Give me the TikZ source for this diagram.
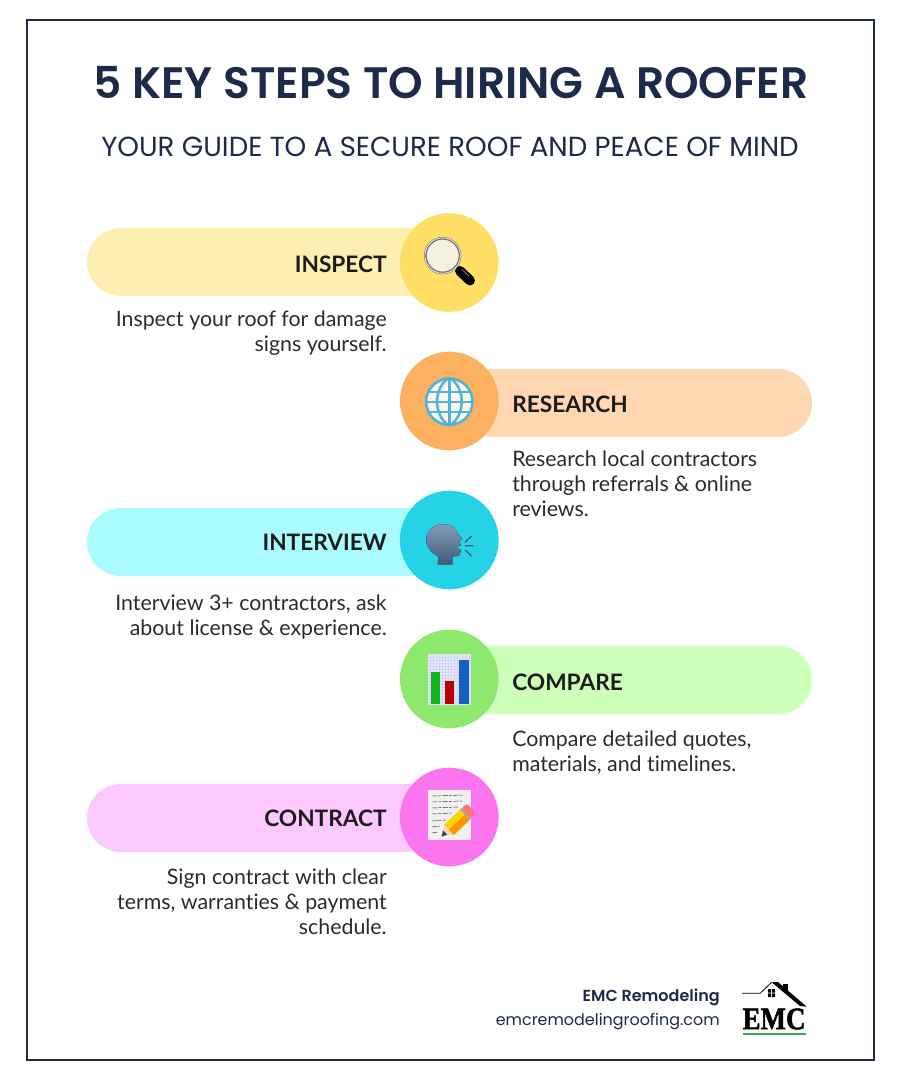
\documentclass[tikz,border=0pt]{standalone}
\usepackage{fontspec}
\setmainfont{Poppins}
\newfontfamily\popsemi{Poppins SemiBold}
\newfontfamily\notefont[Ligatures=NoCommon]{Lato}
\newfontfamily\emcfont[FakeBold=1.5,FakeStretch=.86]{Liberation Serif}
\definecolor{navy}{HTML}{1E2A4A}
\definecolor{inkdark}{HTML}{1C1C1C}
\definecolor{bodyink}{HTML}{2B2B2B}
\definecolor{yellowpill}{HTML}{FDEFB2}
\definecolor{yellowdisc}{HTML}{FFDF66}
\definecolor{orangepill}{HTML}{FFD8B3}
\definecolor{orangedisc}{HTML}{FBB15F}
\definecolor{cyanpill}{HTML}{A9FBFF}
\definecolor{cyandisc}{HTML}{26D2E6}
\definecolor{greenpill}{HTML}{CCFFB8}
\definecolor{greendisc}{HTML}{8EE86D}
\definecolor{pinkpill}{HTML}{FDC8FD}
\definecolor{pinkdisc}{HTML}{FB75EE}
\definecolor{globeblue}{HTML}{4DB4DC}
\definecolor{headblue}{HTML}{4F7199}
\definecolor{barred}{HTML}{B80000}
\definecolor{bargreen}{HTML}{12B51F}
\definecolor{barblue}{HTML}{1560C0}
\definecolor{logogreen}{HTML}{3DA65A}
\tikzset{
  pill/.style={rounded corners=25.5pt},
  headline/.style={font=\notefont\bfseries\fontsize{17}{20}\selectfont,text=inkdark,inner sep=0pt},
  leftnote/.style={font=\notefont\fontsize{16}{18.75}\selectfont,text=bodyink,align=right,anchor=north east,inner sep=0pt},
  rightnote/.style={font=\notefont\fontsize{16}{18.75}\selectfont,text=bodyink,align=left,anchor=north west,inner sep=0pt},
  scribble/.style={black!80,line width=.35pt,dash pattern=on 4pt off .8pt on 2pt off 1.2pt},
  globeline/.style={globeblue,line width=1.9pt},
}
\begin{document}
\begin{tikzpicture}[x=.75pt,y=-.75pt]
\useasboundingbox (0,0) rectangle (900,1080);
\draw[navy,line width=1.5pt] (27,20) rectangle (874,1060);
\node[font=\popsemi\fontsize{33}{36}\selectfont,text=navy,inner sep=0pt] (title) at (451,83) {5 KEY STEPS TO HIRING A ROOFER};
\node[font=\fontsize{20.7}{24}\selectfont,text=navy,inner sep=0pt] (subtitle) at (450,147) {YOUR GUIDE TO A SECURE ROOF AND PEACE OF MIND};
\fill[yellowpill,pill] (87,228) rectangle (440,296);
\fill[orangepill,pill] (460,369) rectangle (812,437);
\fill[cyanpill,pill] (87,508) rectangle (440,576);
\fill[greenpill,pill] (460,646) rectangle (812,714);
\fill[pinkpill,pill] (87,784) rectangle (440,852);
\fill[yellowdisc] (449.3,262.5) circle (37pt);
\fill[orangedisc] (449.3,401) circle (37pt);
\fill[cyandisc] (449.3,540) circle (37pt);
\fill[greendisc] (449.3,679) circle (37pt);
\fill[pinkdisc] (449.3,817) circle (37pt);
\node[headline,anchor=east] (inspect) at (387,264) {INSPECT};
\node[headline,anchor=west] (research) at (512,404) {RESEARCH};
\node[headline,anchor=east] (interview) at (387,542) {INTERVIEW};
\node[headline,anchor=west] (compare) at (512,682) {COMPARE};
\node[headline,anchor=east] (contract) at (387,818) {CONTRACT};
\node[leftnote] (inspectnote) at (387,311) {Inspect your roof for damage\\signs yourself.};
\node[rightnote] (researchnote) at (512,451) {Research local contractors\\through referrals \& online\\reviews.};
\node[leftnote] (interviewnote) at (387,595) {Interview 3+ contractors, ask\\about license \& experience.};
\node[rightnote] (comparenote) at (512,731) {Compare detailed quotes,\\materials, and timelines.};
\node[leftnote] (contractnote) at (387,869) {Sign contract with clear\\terms, warranties \& payment\\schedule.};
\fill[black!55] (453,266) -- (456,263) -- (461,268) -- (458,271) -- cycle;
\draw[black,line width=7.4pt,line cap=round] (460,271) -- (470,280.5);
\draw[white!50!black,line width=.6pt,line cap=round] (462,269.5) -- (469,276);
\fill[yellowdisc!15!white!92!gray] (442.7,255.6) circle (12.2pt);
\draw[black!55,line width=2pt] (442.7,255.6) circle (13pt);
\draw[white!85!gray,line width=.6pt] (442.7,255.6) circle (13.3pt);
\fill[orange!8!white] (449.3,401.7) circle (18pt);
\begin{scope}
\clip (449.3,401.7) circle (18pt);
\draw[globeline] (425,392) -- (474,392) (425,402) -- (474,402) (425,412) -- (474,412);
\draw[globeline] (449.3,377) -- (449.3,426);
\draw[globeline] (449.3,377.5) .. controls (433,388) and (433,415) .. (449.3,426);
\draw[globeline] (449.3,377.5) .. controls (466,388) and (466,415) .. (449.3,426);
\end{scope}
\draw[globeline] (449.3,401.7) circle (17.4pt);
\fill[top color=headblue!70!white,bottom color=headblue!80!black] (437.7,564.3) -- (438.3,556.7) .. controls (431,552) and (426.3,548) .. (426.3,539.7) .. controls (426.3,530) and (434,524.3) .. (443.3,524.3) .. controls (451,524.3) and (456,527) .. (457.2,533) -- (462.3,538.6) -- (459,541.7) -- (461,545) -- (456.5,547.5) -- (461.3,550) -- (458.8,555.7) -- (452.3,556.7) -- (452.3,564.3) -- cycle;
\draw[headblue!80!black,line width=1pt] (465,542.3) -- (471.7,536) (465,545.7) -- (473.3,545.7) (465,550) -- (471.7,556);
\fill[blue!8!gray!15!white] (427.7,654) rectangle (471,705);
\foreach \xgrid in {430,433,...,469}
  \draw[blue!18!white,line width=.15pt] (\xgrid,654) -- (\xgrid,705);
\foreach \ygrid in {657,660,...,703}
  \draw[blue!18!white,line width=.15pt] (427.7,\ygrid) -- (471,\ygrid);
\fill[bargreen] (430.7,671.7) rectangle (440,704.3);
\fill[barred] (444.7,680.7) rectangle (454.3,704.3);
\fill[barblue] (459.3,660.3) rectangle (468.7,704.3);
\fill[black!6] (427.7,790) rectangle (471,840);
\foreach \yrow/\xend in {796/464,802/462,808/458,814/452,821/446,827/440,833/438}
  \draw[scribble] (432,\yrow) -- (\xend,\yrow-1);
\fill[black!75] (441.7,836.7) -- (443,830) -- (447.5,834.5) -- cycle;
\fill[orange!30!white] (443,830) -- (444.2,824.7) -- (453.8,834.9) -- (447.5,834.5) -- cycle;
\fill[yellow!70!orange] (444.2,824.7) -- (460.1,809.6) -- (469.7,819.8) -- (453.8,834.9) -- cycle;
\fill[orange!85!yellow] (449,829.8) -- (464.9,814.7) -- (469.7,819.8) -- (453.8,834.9) -- cycle;
\fill[black!35] (460.1,809.6) -- (461.6,808.2) -- (471.2,818.4) -- (469.7,819.8) -- cycle;
\fill[red!40!pink,rounded corners=1.5pt] (461.6,808.2) -- (466.9,803.6) -- (475.1,812.4) -- (471.2,818.4) -- cycle;
\node[font=\popsemi\fontsize{12}{15}\selectfont,text=navy,anchor=east,inner sep=0pt] (brand) at (720,997) {EMC Remodeling};
\node[font=\fontsize{11.95}{15}\selectfont,text=navy,anchor=east,inner sep=0pt] (website) at (720,1022) {emcremodelingroofing.com};
\draw[black,line width=.6pt] (742,993.3) -- (760,993.3) -- (771.7,982.3);
\fill[black] (771.7,982.3) -- (778,982) -- (806.7,1006.7) -- (800,1006) -- cycle;
\fill[black] (783,984) rectangle (788,991);
\fill[black] (768,989) rectangle (771,992.6) (772,989) rectangle (775,992.6) (768,993.4) rectangle (771,997) (772,993.4) rectangle (775,997);
\node[font=\emcfont\bfseries\fontsize{23.5}{24}\selectfont,text=black,inner sep=0pt] (emc) at (774,1019) {EMC};
\draw[logogreen,line width=1pt] (743,1034) -- (806,1034);
\end{tikzpicture}
\end{document}
